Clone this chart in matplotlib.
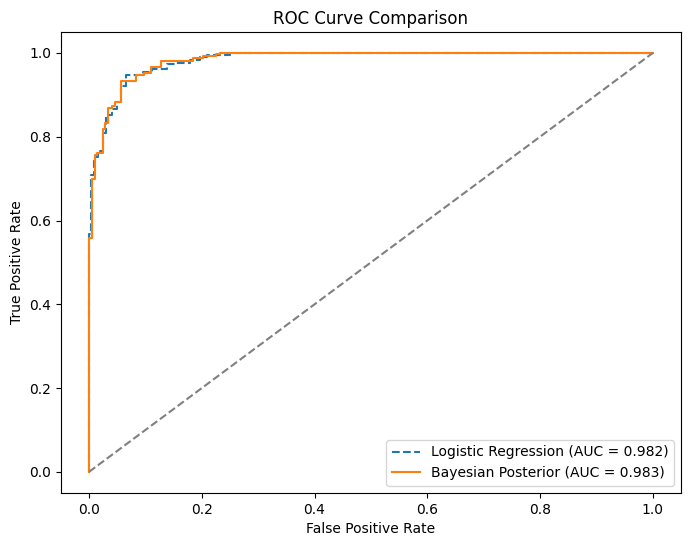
import matplotlib
matplotlib.use("Agg")
import matplotlib.pyplot as plt

# ROC points (step corners)
lr_fpr = [0, 0, 0.004, 0.004, 0.008, 0.008, 0.016, 0.016, 0.024, 0.024, 0.031, 0.031,
          0.040, 0.040, 0.050, 0.050, 0.056, 0.056, 0.066, 0.066, 0.095, 0.095, 0.111,
          0.111, 0.139, 0.139, 0.155, 0.155, 0.179, 0.179, 0.197, 0.197, 0.210, 0.210,
          0.250, 0.250, 1.0]
lr_tpr = [0, 0.567, 0.567, 0.709, 0.709, 0.752, 0.752, 0.767, 0.767, 0.809, 0.809, 0.852,
          0.852, 0.866, 0.866, 0.884, 0.884, 0.920, 0.920, 0.947, 0.947, 0.955, 0.955,
          0.961, 0.961, 0.974, 0.974, 0.976, 0.976, 0.983, 0.983, 0.990, 0.990, 0.995,
          0.995, 1.0, 1.0]

bp_fpr = [0, 0, 0.005, 0.005, 0.011, 0.011, 0.015, 0.015, 0.024, 0.024, 0.028, 0.028,
          0.033, 0.033, 0.040, 0.040, 0.046, 0.046, 0.056, 0.056, 0.061, 0.061, 0.083,
          0.083, 0.098, 0.098, 0.110, 0.110, 0.128, 0.128, 0.184, 0.184, 0.202, 0.202,
          0.226, 0.226, 0.232, 0.232, 1.0]
bp_tpr = [0, 0.558, 0.558, 0.700, 0.700, 0.757, 0.757, 0.762, 0.762, 0.819, 0.819, 0.833,
          0.833, 0.868, 0.868, 0.873, 0.873, 0.882, 0.882, 0.932, 0.932, 0.934, 0.934,
          0.948, 0.948, 0.952, 0.952, 0.966, 0.966, 0.981, 0.981, 0.989, 0.989, 0.993,
          0.993, 0.997, 0.997, 1.0, 1.0]

lr_auc = 0.982
bp_auc = 0.983

fig, ax = plt.subplots(figsize=(6.91, 5.47), dpi=100)
fig.subplots_adjust(left=0.088, right=0.9855, bottom=0.099, top=0.9415)

ax.plot(lr_fpr, lr_tpr, linestyle="--", label=f"Logistic Regression (AUC = {lr_auc:.3f})")
ax.plot(bp_fpr, bp_tpr, label=f"Bayesian Posterior (AUC = {bp_auc:.3f})")
ax.plot([0, 1], [0, 1], linestyle="--", color="gray")

ax.set_xlabel("False Positive Rate")
ax.set_ylabel("True Positive Rate")
ax.set_title("ROC Curve Comparison")
ax.legend(loc="lower right")

fig.savefig("out.png", dpi=100)
